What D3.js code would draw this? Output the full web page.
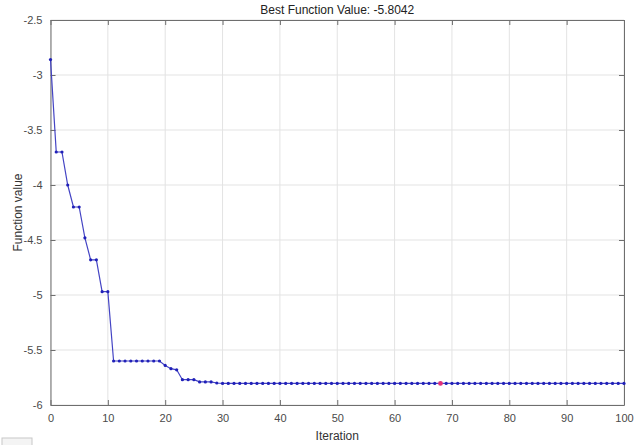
<!DOCTYPE html>
<html>
<head>
<meta charset="utf-8">
<script src="https://cdn.jsdelivr.net/npm/d3@7"></script>
<style>
  body { margin: 0; background: #fff; }
  svg text { font-family: "Liberation Sans", Arial, sans-serif; }
</style>
</head>
<body>
<div id="chart"></div>
<script>
var svgWidth = 640;
var svgHeight = 445;

var margin = { top: 20, right: 16, bottom: 40, left: 50.5 };
var width = 624 - margin.left;
var height = 405 - margin.top;

// best value found at each iteration (0..100)
var bestValues = [
  -2.86, -3.70, -3.70, -4.00, -4.20, -4.20, -4.48, -4.68, -4.68, -4.97,
  -4.97, -5.60, -5.60, -5.60, -5.60, -5.60, -5.60, -5.60, -5.60, -5.60,
  -5.64, -5.67, -5.68, -5.77, -5.77, -5.77, -5.79, -5.79, -5.79, -5.80,
  -5.8042, -5.8042, -5.8042, -5.8042, -5.8042, -5.8042, -5.8042, -5.8042, -5.8042, -5.8042,
  -5.8042, -5.8042, -5.8042, -5.8042, -5.8042, -5.8042, -5.8042, -5.8042, -5.8042, -5.8042,
  -5.8042, -5.8042, -5.8042, -5.8042, -5.8042, -5.8042, -5.8042, -5.8042, -5.8042, -5.8042,
  -5.8042, -5.8042, -5.8042, -5.8042, -5.8042, -5.8042, -5.8042, -5.8042, -5.8042, -5.8042,
  -5.8042, -5.8042, -5.8042, -5.8042, -5.8042, -5.8042, -5.8042, -5.8042, -5.8042, -5.8042,
  -5.8042, -5.8042, -5.8042, -5.8042, -5.8042, -5.8042, -5.8042, -5.8042, -5.8042, -5.8042,
  -5.8042, -5.8042, -5.8042, -5.8042, -5.8042, -5.8042, -5.8042, -5.8042, -5.8042, -5.8042,
  -5.8042
];
var highlightIter = 68;

var xTicks = [0, 10, 20, 30, 40, 50, 60, 70, 80, 90, 100];
var yTicks = [-6, -5.5, -5, -4.5, -4, -3.5, -3, -2.5];

var titleText = "Best Function Value: -5.8042";
var xLabelText = "Iteration";
var yLabelText = "Function value";

var data = bestValues.map((v, i) => ({ iter: i, value: v }));

var svg = d3.select("#chart")
  .append("svg")
  .attr("width", svgWidth)
  .attr("height", svgHeight);

var chartGroup = svg.append("g")
  .attr("transform", `translate(${margin.left}, ${margin.top})`);

var xScale = d3.scaleLinear().domain([0, 100]).range([0, width]);
var yScale = d3.scaleLinear().domain([-6, -2.5]).range([height, 0]);

// grid
chartGroup.append("g")
  .selectAll("line.vgrid")
  .data(xTicks)
  .enter()
  .append("line")
  .attr("x1", d => xScale(d)).attr("x2", d => xScale(d))
  .attr("y1", 0).attr("y2", height)
  .attr("stroke", "#e3e3e3");

chartGroup.append("g")
  .selectAll("line.hgrid")
  .data(yTicks)
  .enter()
  .append("line")
  .attr("x1", 0).attr("x2", width)
  .attr("y1", d => yScale(d)).attr("y2", d => yScale(d))
  .attr("stroke", "#e3e3e3");

// axes (box with inward ticks on all sides)
var fmt = d => String(d);

var bottomAxis = chartGroup.append("g")
  .attr("transform", `translate(0, ${height})`)
  .call(d3.axisBottom(xScale).tickValues(xTicks).tickFormat(fmt).tickSizeInner(-5).tickSizeOuter(0).tickPadding(9));

var topAxis = chartGroup.append("g")
  .call(d3.axisTop(xScale).tickValues(xTicks).tickFormat("").tickSizeInner(-5).tickSizeOuter(0));

var leftAxis = chartGroup.append("g")
  .call(d3.axisLeft(yScale).tickValues(yTicks).tickFormat(fmt).tickSizeInner(-5).tickSizeOuter(0).tickPadding(8));

var rightAxis = chartGroup.append("g")
  .attr("transform", `translate(${width}, 0)`)
  .call(d3.axisRight(yScale).tickValues(yTicks).tickFormat("").tickSizeInner(-5).tickSizeOuter(0));

[bottomAxis, topAxis, leftAxis, rightAxis].forEach(function(ax) {
  ax.selectAll("path, line").attr("stroke", "#6e6e6e");
  ax.selectAll("text")
    .attr("fill", "#4a4a4a")
    .style("font-size", "11px")
    .style("font-family", "Liberation Sans, Arial, sans-serif");
});

// line
var lineGen = d3.line()
  .x(d => xScale(d.iter))
  .y(d => yScale(d.value));

chartGroup.append("path")
  .datum(data)
  .attr("d", lineGen)
  .attr("fill", "none")
  .attr("stroke", "#4444c4")
  .attr("stroke-width", 1.2);

// markers
chartGroup.append("g")
  .selectAll("circle")
  .data(data)
  .enter()
  .append("circle")
  .attr("cx", d => xScale(d.iter))
  .attr("cy", d => yScale(d.value))
  .attr("r", d => d.iter === highlightIter ? 2.4 : 1.6)
  .attr("fill", d => d.iter === highlightIter ? "#e0307a" : "#2020b8");

// title and labels
svg.append("text")
  .attr("x", margin.left + width / 2)
  .attr("y", 14)
  .attr("text-anchor", "middle")
  .attr("fill", "#222")
  .style("font-size", "12px")
  .text(titleText);

svg.append("text")
  .attr("x", margin.left + width / 2)
  .attr("y", 440)
  .attr("text-anchor", "middle")
  .attr("fill", "#333")
  .style("font-size", "12px")
  .text(xLabelText);

svg.append("text")
  .attr("transform", `translate(22, ${margin.top + height / 2}) rotate(-90)`)
  .attr("text-anchor", "middle")
  .attr("fill", "#333")
  .style("font-size", "12px")
  .text(yLabelText);

// small grey box at the bottom-left edge
svg.append("rect")
  .attr("x", 2).attr("y", 438)
  .attr("width", 30).attr("height", 8)
  .attr("fill", "#f4f4f4")
  .attr("stroke", "#c8c8c8");
</script>
</body>
</html>
